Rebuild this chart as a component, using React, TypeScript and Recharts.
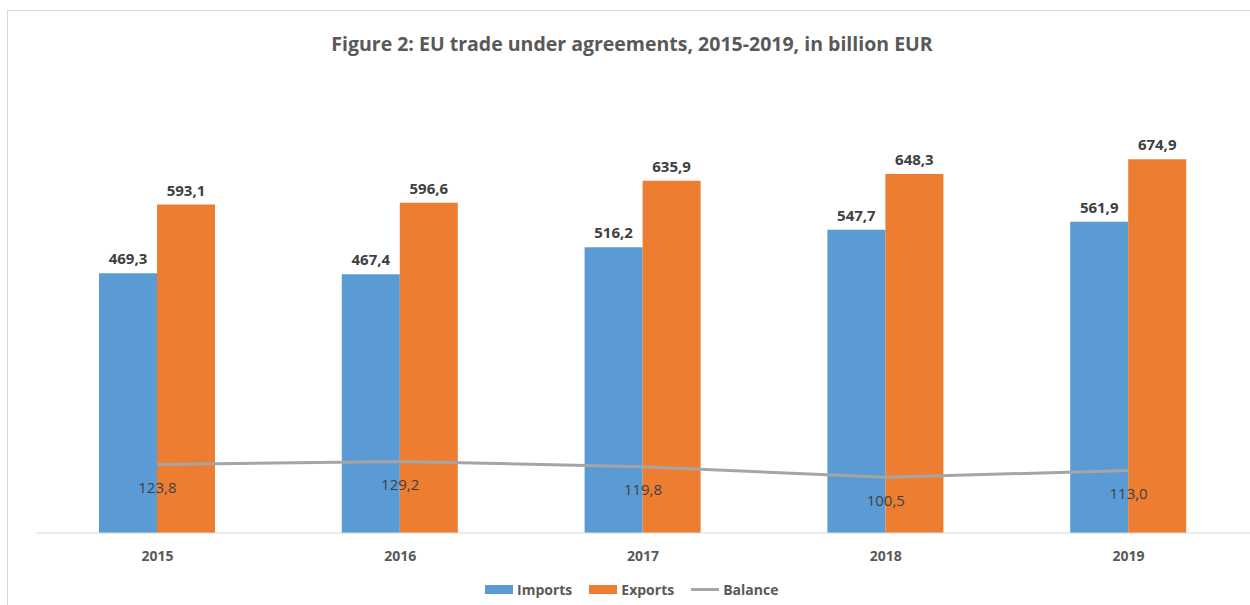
import { ComposedChart, Bar, Line, XAxis, YAxis, LabelList } from 'recharts'

const years = ['2015', '2016', '2017', '2018', '2019']
const imports = [469.3, 467.4, 516.2, 547.7, 561.9]
const exports = [593.1, 596.6, 635.9, 648.3, 674.9]
const balance = [123.8, 129.2, 119.8, 100.5, 113.0]

const data = years.map((year, i) => ({
  year,
  imports: imports[i],
  exports: exports[i],
  balance: balance[i],
}))

const BLUE = '#5b9bd5'
const ORANGE = '#ed7d31'
const GREY = '#a5a5a5'
const FONT = '"Open Sans", sans-serif'

const fmt = (v: any) => Number(v).toFixed(1).replace('.', ',')

function LegendItem({ color, label, line }: { color: string; label: string; line?: boolean }) {
  return (
    <span style={{ display: 'inline-flex', alignItems: 'center', marginRight: 17 }}>
      <span
        style={{
          display: 'inline-block',
          width: 28,
          height: line ? 3 : 9,
          background: color,
          marginRight: 4,
        }}
      />
      {label}
    </span>
  )
}

export default function App() {
  return (
    <div
      style={{
        position: 'absolute',
        left: 0,
        top: 0,
        width: 1250,
        height: 605,
        overflow: 'hidden',
        background: '#fff',
        fontFamily: FONT,
      }}
    >
      <div
        style={{
          position: 'absolute',
          left: 7,
          top: 10,
          width: 1300,
          height: 700,
          borderTop: '1px solid #d9d9d9',
          borderLeft: '1px solid #d9d9d9',
        }}
      />
      <div
        style={{
          position: 'absolute',
          left: 7,
          top: 30,
          width: 1250,
          textAlign: 'center',
          fontSize: 19.5,
          fontWeight: 'bold',
          color: '#595959',
        }}
      >
        Figure 2: EU trade under agreements, 2015-2019, in billion EUR
      </div>
      <div style={{ position: 'absolute', left: 0, top: 0 }}>
        <ComposedChart
          width={1250}
          height={605}
          data={data}
          margin={{ top: 90, right: 0, left: 36, bottom: 42 }}
          barGap={0}
          barCategoryGap={63}
        >
          <XAxis
            dataKey="year"
            height={30}
            axisLine={{ stroke: '#d9d9d9', strokeWidth: 1 }}
            tickLine={false}
            tickSize={6}
            tickMargin={12}
            tick={{ fill: '#595959', fontSize: 14, fontWeight: 'bold', fontFamily: FONT }}
          />
          <YAxis hide domain={[0, 800]} />
          <Bar dataKey="imports" fill={BLUE} isAnimationActive={false}>
            <LabelList
              dataKey="imports"
              position="top"
              offset={9}
              formatter={fmt}
              style={{ fill: '#404040', fontSize: 15, fontWeight: 'bold', fontFamily: FONT }}
            />
          </Bar>
          <Bar dataKey="exports" fill={ORANGE} isAnimationActive={false}>
            <LabelList
              dataKey="exports"
              position="top"
              offset={9}
              formatter={fmt}
              style={{ fill: '#404040', fontSize: 15, fontWeight: 'bold', fontFamily: FONT }}
            />
          </Bar>
          <Line
            dataKey="balance"
            stroke={GREY}
            strokeWidth={3}
            dot={false}
            type="linear"
            isAnimationActive={false}
          >
            <LabelList
              dataKey="balance"
              position="bottom"
              offset={18}
              formatter={fmt}
              style={{ fill: '#404040', fontSize: 15, fontFamily: FONT }}
            />
          </Line>
        </ComposedChart>
      </div>
      <div
        style={{
          position: 'absolute',
          left: 485,
          top: 580,
          fontSize: 14,
          fontWeight: 'bold',
          color: '#595959',
          display: 'flex',
          whiteSpace: 'nowrap',
        }}
      >
        <LegendItem color={BLUE} label="Imports" />
        <LegendItem color={ORANGE} label="Exports" />
        <LegendItem color={GREY} label="Balance" line />
      </div>
    </div>
  )
}
